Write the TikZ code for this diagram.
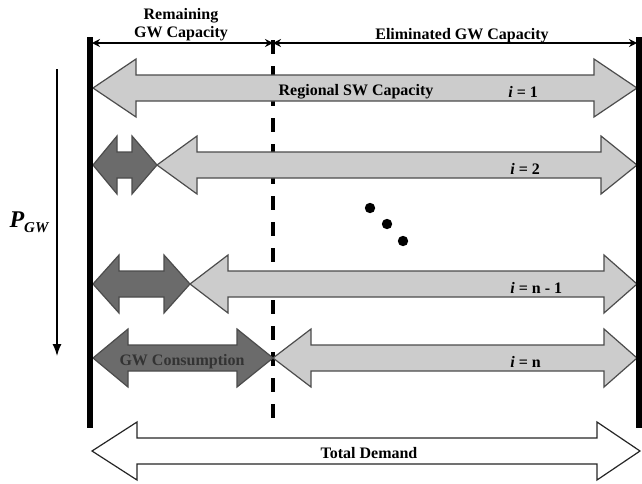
\documentclass[tikz,border=0pt]{standalone}
\usepackage{fontspec}
\setmainfont{Liberation Serif}
\usetikzlibrary{arrows.meta}

\definecolor{swgray}{gray}{0.80}
\definecolor{gwgray}{gray}{0.42}
\definecolor{edgegray}{gray}{0.30}

\tikzset{
  swarrow/.style={fill=swgray,draw=edgegray,line width=0.6pt},
  gwarrow/.style={fill=gwgray,draw=edgegray,line width=0.6pt},
  demandarrow/.style={fill=white,draw=black!85,line width=0.6pt},
  lbl/.style={font=\bfseries\fontsize{8}{9}\selectfont,inner sep=0pt},
  dimline/.style={{Stealth[length=4pt,width=4pt]}-{Stealth[length=4pt,width=4pt]},line width=0.6pt},
  wall/.style={line width=3pt},
  splitline/.style={line width=2pt,dash pattern=on 7pt off 6pt}
}

% #1 style, #2 left tip, #3 right tip, #4 y, #5 left head, #6 right head
\newcommand{\dblarrow}[6]{%
  \draw[#1] (#2,#4) -- (#2+#5,#4-29) -- (#2+#5,#4-13) -- (#3-#6,#4-13)
    -- (#3-#6,#4-29) -- (#3,#4) -- (#3-#6,#4+29) -- (#3-#6,#4+13)
    -- (#2+#5,#4+13) -- (#2+#5,#4+29) -- cycle;}

\begin{document}
\begin{tikzpicture}[x=0.5pt,y=-0.5pt]
\useasboundingbox (0,0) rectangle (642,483);

\coordinate (walltopL) at (90,37);
\coordinate (wallbotL) at (90,428);
\coordinate (walltopR) at (639,37);
\coordinate (wallbotR) at (639,428);
\coordinate (splittop) at (273,40);
\coordinate (splitbot) at (273,428);

\draw[splitline] (splittop) -- (splitbot);

\dblarrow{swarrow}{93}{637}{88}{43}{43}
\dblarrow{gwarrow}{93}{157}{165}{24}{25}
\dblarrow{swarrow}{157}{637}{165}{40}{36}
\dblarrow{gwarrow}{93}{190}{284}{26}{26}
\dblarrow{swarrow}{190}{637}{284}{38}{33}
\dblarrow{gwarrow}{93}{273}{358}{35}{36}
\dblarrow{swarrow}{273}{637}{358}{38}{33}
\dblarrow{demandarrow}{92}{640}{451}{45}{43}

\draw[wall] (walltopL) -- (wallbotL);
\draw[wall] (walltopR) -- (wallbotR);

\coordinate (remL) at (92,43);
\coordinate (remR) at (273,43);
\coordinate (elimR) at (637,43);
\draw[dimline] (remL) -- (remR);
\draw[dimline] (remR) -- (elimR);

\node[lbl,align=center] (remaining) at (181,25) {Remaining\\GW Capacity};
\node[lbl] (eliminated) at (462,36) {Eliminated GW Capacity};
\node[lbl] (regional) at (356,92) {Regional SW Capacity};
\node[lbl,anchor=west] (row1) at (508,92) {\textit{i} = 1};
\node[lbl,anchor=west] (row2) at (510,169) {\textit{i} = 2};
\node[lbl,anchor=west] (row3) at (510,288) {\textit{i} = n - 1};
\node[lbl,anchor=west] (row4) at (510,362) {\textit{i} = n};
\node[lbl,text=black!80] (consumption) at (182,362) {GW Consumption};
\node[lbl] (demand) at (369,453) {Total Demand};

\fill (370,208) circle[radius=2.6pt];
\fill (387,224) circle[radius=2.6pt];
\fill (403,241) circle[radius=2.6pt];

\coordinate (ptop) at (57,69);
\coordinate (pbot) at (57,356);
\draw[-{Latex[length=6pt,width=4.5pt]},line width=0.7pt] (ptop) -- (pbot);
\node[font=\bfseries\itshape\fontsize{12}{14}\selectfont,inner sep=0pt] (pgw) at (29,222)
  {P\raisebox{-0.45ex}{\fontsize{7.5}{9}\selectfont GW}};
\end{tikzpicture}
\end{document}
